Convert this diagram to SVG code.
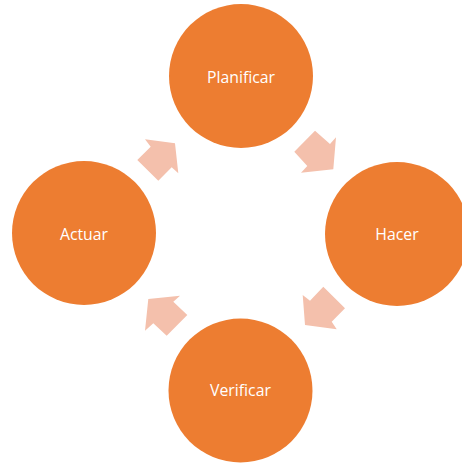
<svg xmlns="http://www.w3.org/2000/svg" width="462" height="463" viewBox="0 0 462 463">
<style>
.node{fill:#ED7D31;}
.lbl{font-family:"Open Sans","Liberation Sans",sans-serif;font-size:15.8px;fill:#FFFFFF;text-anchor:middle;}
.arr{fill:#F4C0AC;}
</style>
<rect width="462" height="463" fill="#FFFFFF"/>
<g id="connectors">
<polygon class="arr" points="294.3,151.7 315,130.7 330,144 336,137.3 333.3,169.3 301,172.7 307.3,166"/>
<polygon class="arr" points="323.3,286.7 345,308.3 331.7,321.7 336.7,329.3 305,325 302.7,295 310,300.7"/>
<polygon class="arr" points="187.3,315 166.7,335.7 153.3,323.3 145,330.7 148.3,299 180,295.7 173.3,301.7"/>
<polygon class="arr" points="137.3,160 158.3,180.7 171.7,167.3 178.3,173.3 175,143.3 145,139.3 150.7,146.7"/>
</g>
<g id="node-planificar">
<circle class="node" cx="241" cy="76" r="72"/>
<text class="lbl" x="241" y="82.5">Planificar</text>
</g>
<g id="node-hacer">
<circle class="node" cx="397" cy="234" r="72"/>
<text class="lbl" x="397" y="239.5">Hacer</text>
</g>
<g id="node-verificar">
<circle class="node" cx="240.5" cy="390.5" r="72"/>
<text class="lbl" x="240.5" y="395.5">Verificar</text>
</g>
<g id="node-actuar">
<circle class="node" cx="84" cy="233" r="72"/>
<text class="lbl" x="84" y="239.5">Actuar</text>
</g>
</svg>
